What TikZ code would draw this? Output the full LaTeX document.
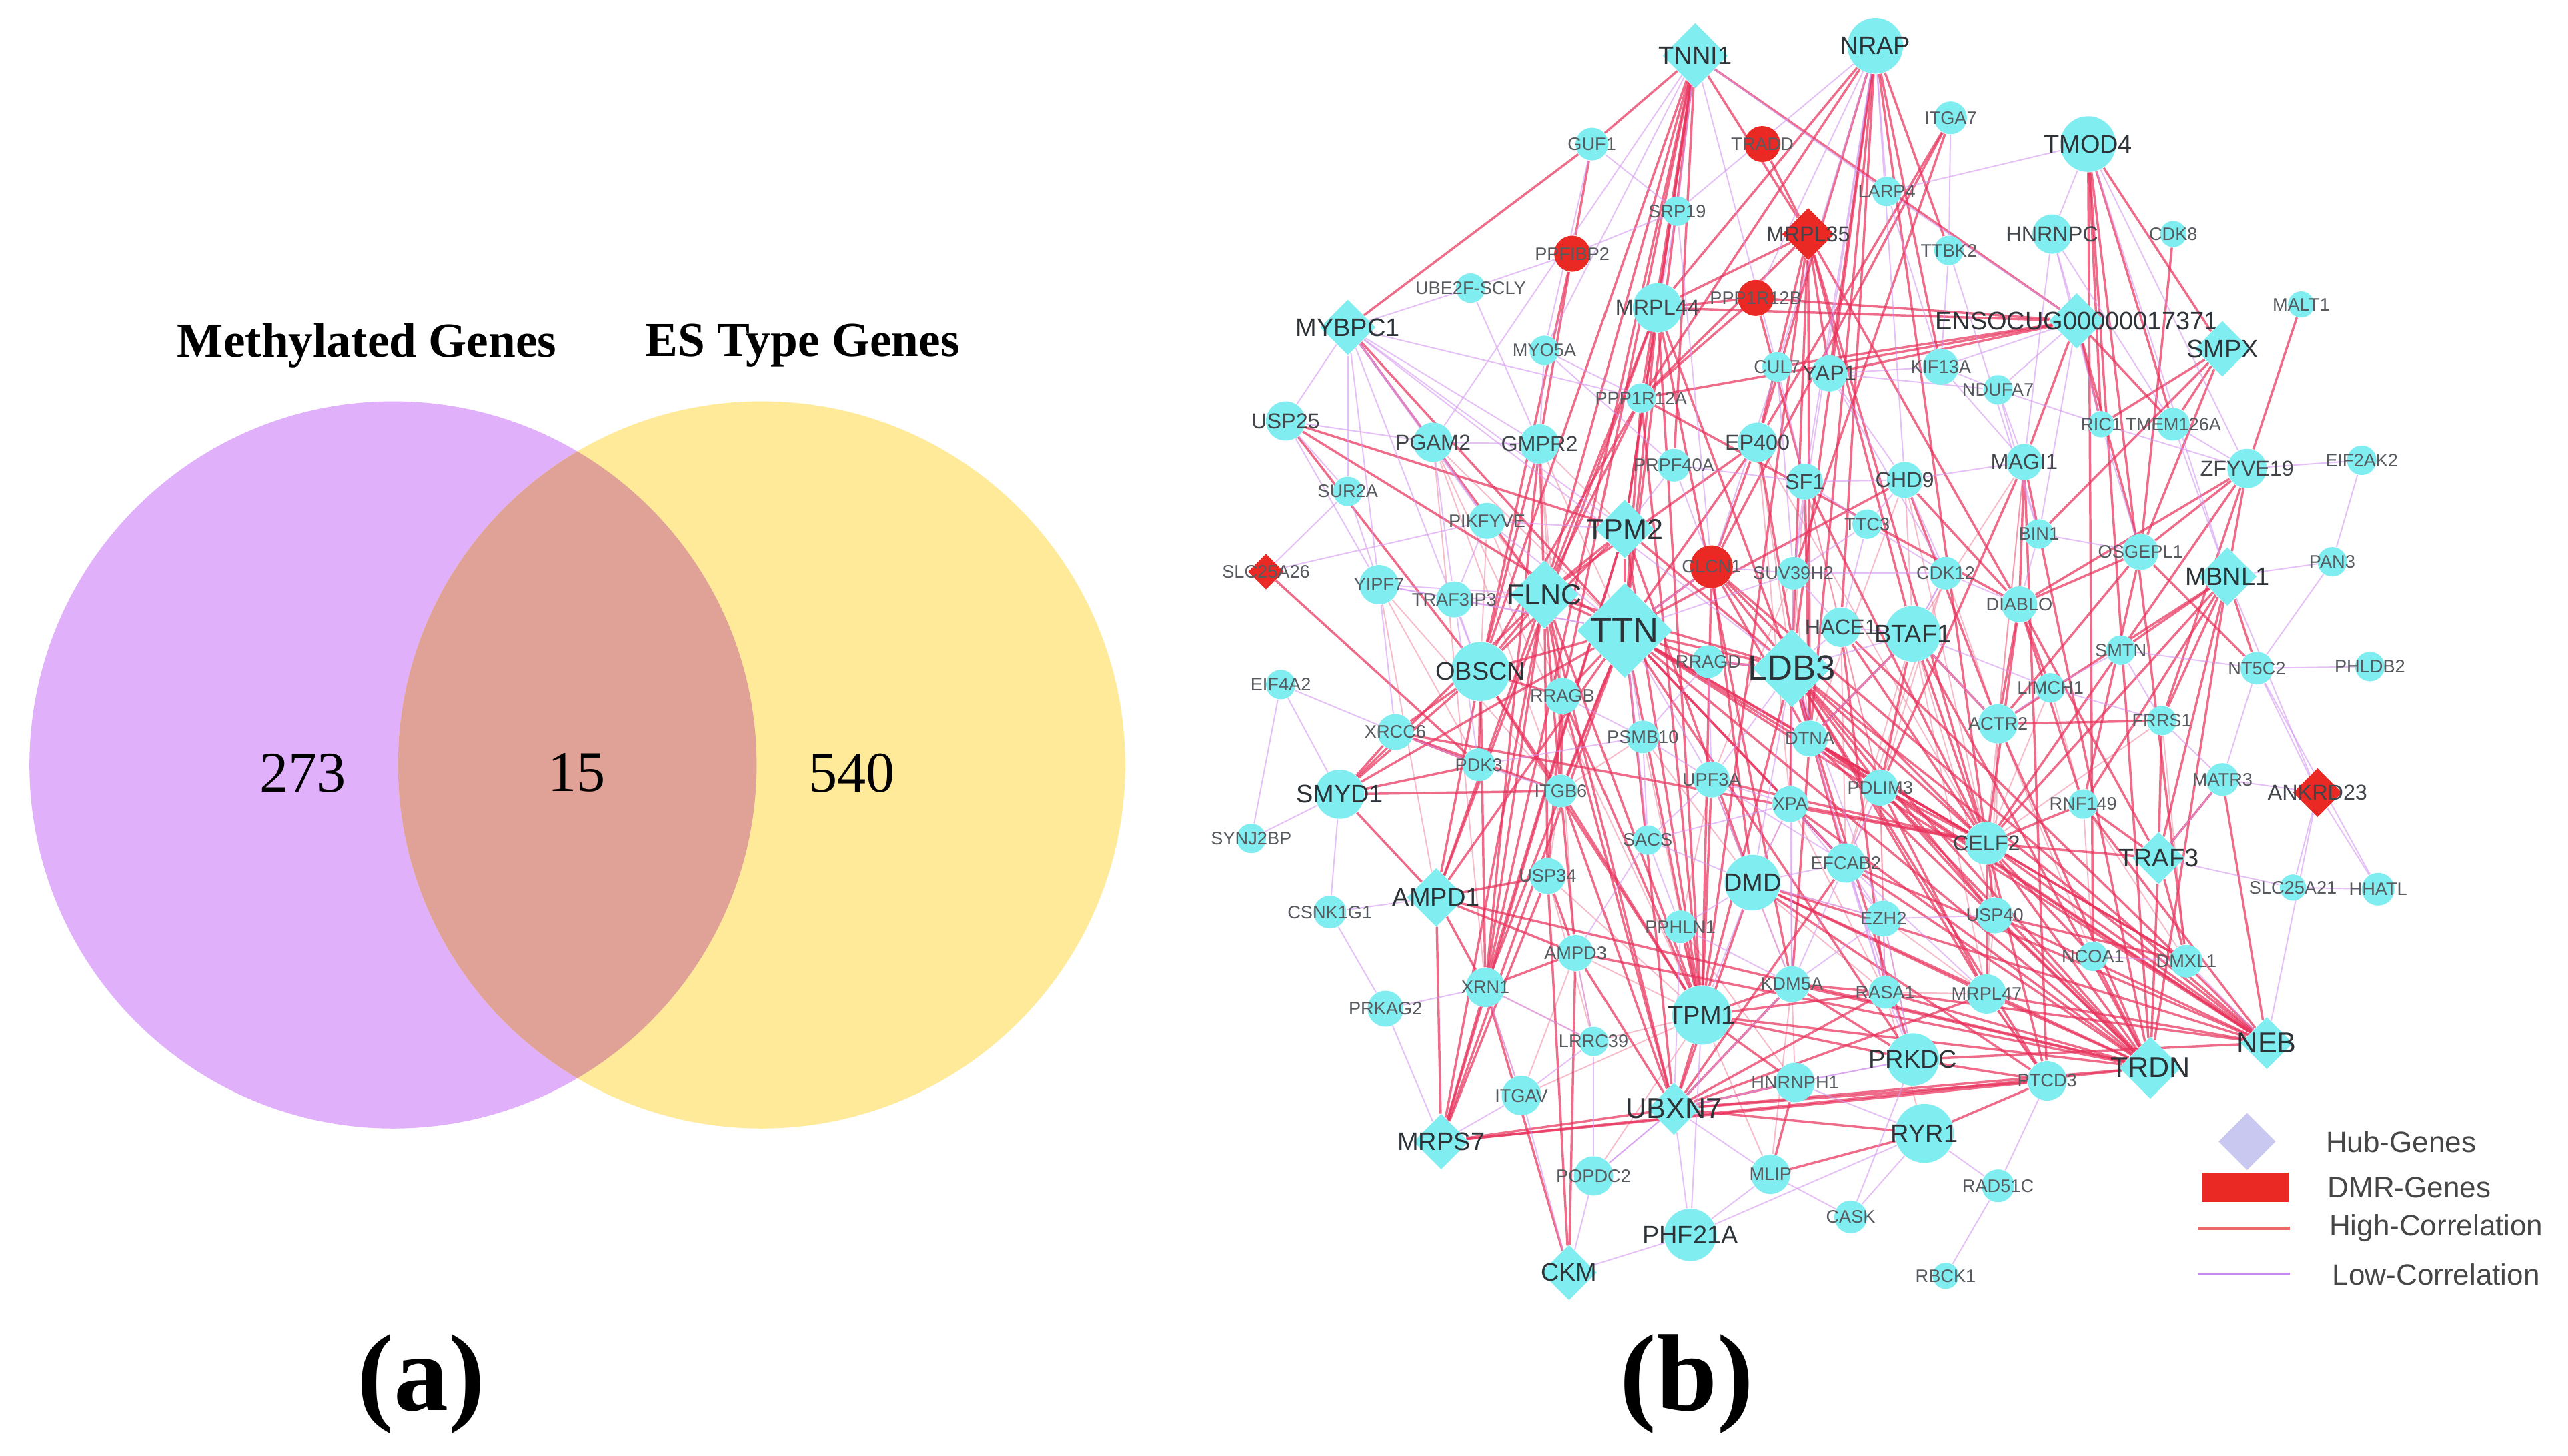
\documentclass[tikz,border=0pt]{standalone}
\usepackage{fontspec}
\setmainfont{Liberation Sans}
\newfontfamily\vennfont{Liberation Serif}
\usetikzlibrary{shapes.geometric,backgrounds}
\definecolor{genecyan}{RGB}{128,238,240}
\definecolor{dmrred}{RGB}{234,40,36}
\definecolor{hubviolet}{RGB}{200,200,240}
\definecolor{hiline}{RGB}{232,50,92}
\definecolor{loline}{RGB}{212,150,240}
\definecolor{hikeyline}{RGB}{240,105,105}
\definecolor{lokeyline}{RGB}{196,140,240}
\definecolor{methpurple}{RGB}{225,176,250}
\definecolor{esyellow}{RGB}{255,234,154}
\definecolor{overlapbrown}{RGB}{224,161,150}
\definecolor{labgray}{RGB}{45,50,55}
\definecolor{keygray}{RGB}{70,70,70}

\begin{document}
\begin{tikzpicture}[x=0.2mm, y=-0.2mm,
    gc/.style={circle, fill=genecyan, inner sep=0pt, minimum size=#1},
    rc/.style={circle, fill=dmrred, inner sep=0pt, minimum size=#1},
    gd/.style={diamond, fill=genecyan, inner sep=0pt, minimum size=#1},
    rd/.style={diamond, fill=dmrred, inner sep=0pt, minimum size=#1},
    lbs/.style={font=\fontsize{6.3}{7}\selectfont, text=labgray!80},
    lbm/.style={font=\fontsize{7.5}{8}\selectfont, text=labgray!90},
    lbl/.style={font=\fontsize{8.8}{9}\selectfont, text=labgray},
    lbx/.style={font=\fontsize{10}{11}\selectfont, text=labgray},
    lbxx/.style={font=\fontsize{12.2}{13}\selectfont, text=labgray},
    hicorr/.style={draw=hiline, line width=0.8pt, opacity=0.72},
    faintcorr/.style={draw=hiline!65!white, line width=0.45pt, opacity=0.5},
    locorr/.style={draw=loline, line width=0.45pt, opacity=0.6},
    keytext/.style={anchor=west, font=\fontsize{10.2}{11}\selectfont, text=keygray}]

\useasboundingbox (0,0) rectangle (1568,889);

% (a) Venn diagram
\fill[methpurple] (240,467) circle (44.4mm);
\fill[esyellow] (465,467) circle (44.4mm);
\begin{scope}
    \clip (240,467) circle (44.4mm);
    \fill[overlapbrown] (465,467) circle (44.4mm);
\end{scope}
\node[font=\vennfont\bfseries\fontsize{17}{18}\selectfont] (methlab) at (224,211) {Methylated Genes};
\node[font=\vennfont\bfseries\fontsize{17}{18}\selectfont] (eslab) at (490,211) {ES Type Genes};
\node[font=\vennfont\fontsize{20}{21}\selectfont] (n273) at (185,472) {273};
\node[font=\vennfont\fontsize{20}{21}\selectfont] (n15) at (352,472) {15};
\node[font=\vennfont\fontsize{20}{21}\selectfont] (n540) at (520,472) {540};
\node[font=\vennfont\bfseries\fontsize{38}{40}\selectfont] (capa) at (257,845) {(a)};
\node[font=\vennfont\bfseries\fontsize{38}{40}\selectfont] (capb) at (1030,845) {(b)};

% (b) network: hub genes
\node[gd=8mm, label={[lbl]center:TNNI1}] (tnni1) at (1035,34) {};
\node[gd=6.8mm, label={[lbl]center:ENSOCUG00000017371}] (ensocug) at (1268,196) {};
\node[gd=6.8mm, label={[lbl]center:MYBPC1}] (mybpc1) at (823,200) {};
\node[gd=6.8mm, label={[lbl]center:SMPX}] (smpx) at (1357,213) {};
\node[gd=7.2mm, label={[lbx]center:TPM2}] (tpm2) at (992,323) {};
\node[gd=7.2mm, label={[lbl]center:MBNL1}] (mbnl1) at (1360,352) {};
\node[gd=8.4mm, label={[lbx]center:FLNC}] (flnc) at (943,363) {};
\node[gd=11.6mm, label={[lbxx]center:TTN}] (ttn) at (992,385) {};
\node[gd=9.6mm, label={[lbxx]center:LDB3}] (ldb3) at (1094,408) {};
\node[gd=6.4mm, label={[lbl]center:TRAF3}] (traf3) at (1318,524) {};
\node[gd=7.2mm, label={[lbl]center:AMPD1}] (ampd1) at (877,548) {};
\node[gd=6.4mm, label={[lbx]center:NEB}] (neb) at (1384,637) {};
\node[gd=7.6mm, label={[lbx]center:TRDN}] (trdn) at (1313,652) {};
\node[gd=6.4mm, label={[lbx]center:UBXN7}] (ubxn7) at (1022,677) {};
\node[gd=6.8mm, label={[lbl]center:MRPS7}] (mrps7) at (880,697) {};
\node[gd=6.8mm, label={[lbl]center:CKM}] (ckm) at (958,777) {};

% DMR genes
\node[rd=6.4mm, label={[lbm]center:MRPL35}] (mrpl35) at (1104,143) {};
\node[rd=4.4mm, label={[lbs]center:SLC25A26}] (slc25a26) at (773,349) {};
\node[rd=6mm, label={[lbm]center:ANKRD23}] (ankrd23) at (1415,484) {};
\node[rc=4.4mm, label={[lbs]center:TRADD}] (tradd) at (1076,88) {};
\node[rc=4.4mm, label={[lbs]center:PPFIBP2}] (ppfibp2) at (960,155) {};
\node[rc=4.4mm, label={[lbs]center:PPP1R12B}] (ppp1r12b) at (1072,182) {};
\node[rc=5.2mm, label={[lbs]center:CLCN1}] (clcn1) at (1045,346) {};

% other genes
\node[gc=4mm, label={[lbs]center:GUF1}] (guf1) at (972,88) {};
\node[gc=6.8mm, label={[lbl]center:NRAP}] (nrap) at (1145,28) {};
\node[gc=4mm, label={[lbs]center:ITGA7}] (itga7) at (1191,72) {};
\node[gc=6.8mm, label={[lbl]center:TMOD4}] (tmod4) at (1275,88) {};
\node[gc=3.6mm, label={[lbs]center:LARP4}] (larp4) at (1152,117) {};
\node[gc=3.6mm, label={[lbs]center:SRP19}] (srp19) at (1024,129) {};
\node[gc=3.6mm, label={[lbs]center:TTBK2}] (ttbk2) at (1190,153) {};
\node[gc=4.8mm, label={[lbm]center:HNRNPC}] (hnrnpc) at (1253,143) {};
\node[gc=3.2mm, label={[lbs]center:CDK8}] (cdk8) at (1327,143) {};
\node[gc=3.6mm, label={[lbs]center:UBE2F-SCLY}] (ube2f) at (898,176) {};
\node[gc=6mm, label={[lbm]center:MRPL44}] (mrpl44) at (1012,188) {};
\node[gc=3.2mm, label={[lbs]center:MALT1}] (malt1) at (1405,186) {};
\node[gc=3.6mm, label={[lbs]center:MYO5A}] (myo5a) at (943,214) {};
\node[gc=3.6mm, label={[lbs]center:CUL7}] (cul7) at (1085,224) {};
\node[gc=4.4mm, label={[lbm]center:YAP1}] (yap1) at (1117,228) {};
\node[gc=4.4mm, label={[lbs]center:KIF13A}] (kif13a) at (1185,224) {};
\node[gc=3.6mm, label={[lbs]center:NDUFA7}] (ndufa7) at (1220,238) {};
\node[gc=3.6mm, label={[lbs]center:PPP1R12A}] (ppp1r12a) at (1002,243) {};
\node[gc=4.8mm, label={[lbm]center:USP25}] (usp25) at (785,257) {};
\node[gc=4.8mm, label={[lbm]center:PGAM2}] (pgam2) at (875,270) {};
\node[gc=4.8mm, label={[lbm]center:GMPR2}] (gmpr2) at (940,271) {};
\node[gc=4.8mm, label={[lbm]center:EP400}] (ep400) at (1073,270) {};
\node[gc=3.2mm, label={[lbs]center:RIC1}] (ric1) at (1283,259) {};
\node[gc=4mm, label={[lbs]center:TMEM126A}] (tmem126a) at (1327,259) {};
\node[gc=4mm, label={[lbs]center:PRPF40A}] (prpf40a) at (1022,284) {};
\node[gc=4.4mm, label={[lbm]center:MAGI1}] (magi1) at (1236,282) {};
\node[gc=4.4mm, label={[lbm]center:SF1}] (sf1) at (1102,294) {};
\node[gc=4.4mm, label={[lbm]center:CHD9}] (chd9) at (1163,293) {};
\node[gc=4.8mm, label={[lbm]center:ZFYVE19}] (zfyve19) at (1372,286) {};
\node[gc=3.6mm, label={[lbs]center:EIF2AK2}] (eif2ak2) at (1442,281) {};
\node[gc=3.6mm, label={[lbs]center:SUR2A}] (sur2a) at (823,300) {};
\node[gc=4.4mm, label={[lbs]center:PIKFYVE}] (pikfyve) at (908,318) {};
\node[gc=3.6mm, label={[lbs]center:TTC3}] (ttc3) at (1140,320) {};
\node[gc=3.6mm, label={[lbs]center:BIN1}] (bin1) at (1245,326) {};
\node[gc=4.4mm, label={[lbs]center:OSGEPL1}] (osgepl1) at (1307,337) {};
\node[gc=3.6mm, label={[lbs]center:PAN3}] (pan3) at (1424,343) {};
\node[gc=4mm, label={[lbs]center:SUV39H2}] (suv39h2) at (1095,350) {};
\node[gc=4mm, label={[lbs]center:CDK12}] (cdk12) at (1188,350) {};
\node[gc=4.8mm, label={[lbs]center:YIPF7}] (yipf7) at (842,357) {};
\node[gc=4.4mm, label={[lbs]center:TRAF3IP3}] (traf3ip3) at (888,366) {};
\node[gc=4.4mm, label={[lbs]center:DIABLO}] (diablo) at (1233,369) {};
\node[gc=4.8mm, label={[lbm]center:HACE1}] (hace1) at (1124,383) {};
\node[gc=6.8mm, label={[lbl]center:BTAF1}] (btaf1) at (1168,387) {};
\node[gc=4mm, label={[lbs]center:RRAGD}] (rragd) at (1043,404) {};
\node[gc=7.2mm, label={[lbl]center:OBSCN}] (obscn) at (904,410) {};
\node[gc=3.6mm, label={[lbs]center:SMTN}] (smtn) at (1295,397) {};
\node[gc=4mm, label={[lbs]center:NT5C2}] (nt5c2) at (1378,408) {};
\node[gc=3.6mm, label={[lbs]center:PHLDB2}] (phldb2) at (1447,407) {};
\node[gc=3.6mm, label={[lbs]center:EIF4A2}] (eif4a2) at (782,418) {};
\node[gc=4.4mm, label={[lbs]center:RRAGB}] (rragb) at (954,425) {};
\node[gc=3.6mm, label={[lbs]center:LIMCH1}] (limch1) at (1252,420) {};
\node[gc=4mm, label={[lbs]center:PSMB10}] (psmb10) at (1003,450) {};
\node[gc=4.8mm, label={[lbs]center:ACTR2}] (actr2) at (1220,442) {};
\node[gc=4.4mm, label={[lbs]center:DTNA}] (dtna) at (1105,451) {};
\node[gc=4.4mm, label={[lbs]center:XRCC6}] (xrcc6) at (852,447) {};
\node[gc=3.6mm, label={[lbs]center:FRRS1}] (frrs1) at (1320,440) {};
\node[gc=4mm, label={[lbs]center:PDK3}] (pdk3) at (903,467) {};
\node[gc=4mm, label={[lbs]center:ITGB6}] (itgb6) at (953,483) {};
\node[gc=4.4mm, label={[lbs]center:UPF3A}] (upf3a) at (1045,476) {};
\node[gc=4.4mm, label={[lbs]center:XPA}] (xpa) at (1093,491) {};
\node[gc=4.4mm, label={[lbs]center:PDLIM3}] (pdlim3) at (1148,481) {};
\node[gc=4mm, label={[lbs]center:MATR3}] (matr3) at (1357,476) {};
\node[gc=3.6mm, label={[lbs]center:RNF149}] (rnf149) at (1272,491) {};
\node[gc=6mm, label={[lbl]center:SMYD1}] (smyd1) at (818,485) {};
\node[gc=3.6mm, label={[lbs]center:SYNJ2BP}] (synj2bp) at (764,512) {};
\node[gc=3.6mm, label={[lbs]center:SACS}] (sacs) at (1006,513) {};
\node[gc=5.2mm, label={[lbm]center:CELF2}] (celf2) at (1213,515) {};
\node[gc=4.8mm, label={[lbs]center:EFCAB2}] (efcab2) at (1127,527) {};
\node[gc=3.2mm, label={[lbs]center:SLC25A21}] (slc25a21) at (1400,542) {};
\node[gc=4mm, label={[lbs]center:HHATL}] (hhatl) at (1452,543) {};
\node[gc=6.8mm, label={[lbl]center:DMD}] (dmd) at (1070,539) {};
\node[gc=4.4mm, label={[lbs]center:USP34}] (usp34) at (945,535) {};
\node[gc=4mm, label={[lbs]center:CSNK1G1}] (csnk1g1) at (812,557) {};
\node[gc=4.4mm, label={[lbs]center:EZH2}] (ezh2) at (1150,561) {};
\node[gc=4.4mm, label={[lbs]center:USP40}] (usp40) at (1218,559) {};
\node[gc=4.4mm, label={[lbs]center:AMPD3}] (ampd3) at (962,582) {};
\node[gc=4mm, label={[lbs]center:PPHLN1}] (pphln1) at (1026,566) {};
\node[gc=3.6mm, label={[lbs]center:NCOA1}] (ncoa1) at (1278,584) {};
\node[gc=4mm, label={[lbs]center:DMXL1}] (dmxl1) at (1335,587) {};
\node[gc=4.8mm, label={[lbs]center:XRN1}] (xrn1) at (907,603) {};
\node[gc=4.4mm, label={[lbs]center:KDM5A}] (kdm5a) at (1094,601) {};
\node[gc=4mm, label={[lbs]center:RASA1}] (rasa1) at (1151,606) {};
\node[gc=4.8mm, label={[lbs]center:MRPL47}] (mrpl47) at (1213,607) {};
\node[gc=4.4mm, label={[lbs]center:PRKAG2}] (prkag2) at (846,616) {};
\node[gc=7.2mm, label={[lbl]center:TPM1}] (tpm1) at (1039,620) {};
\node[gc=3.6mm, label={[lbs]center:LRRC39}] (lrrc39) at (973,636) {};
\node[gc=6.4mm, label={[lbl]center:PRKDC}] (prkdc) at (1168,647) {};
\node[gc=4.8mm, label={[lbs]center:PTCD3}] (ptcd3) at (1250,660) {};
\node[gc=4.8mm, label={[lbs]center:HNRNPH1}] (hnrnph1) at (1096,661) {};
\node[gc=4.8mm, label={[lbs]center:ITGAV}] (itgav) at (929,669) {};
\node[gc=7.2mm, label={[lbl]center:RYR1}] (ryr1) at (1175,692) {};
\node[gc=4.8mm, label={[lbs]center:POPDC2}] (popdc2) at (973,718) {};
\node[gc=4.8mm, label={[lbs]center:MLIP}] (mlip) at (1081,717) {};
\node[gc=4mm, label={[lbs]center:RAD51C}] (rad51c) at (1220,724) {};
\node[gc=4mm, label={[lbs]center:CASK}] (cask) at (1130,743) {};
\node[gc=6.4mm, label={[lbl]center:PHF21A}] (phf21a) at (1032,754) {};
\node[gc=3.2mm, label={[lbs]center:RBCK1}] (rbck1) at (1188,779) {};

% correlation edges
\begin{scope}[on background layer]
\fill[white] (0,0) rectangle (1568,889);
% faint background correlations
\foreach \t in {ttn,tpm1,itgb6,xrn1} \draw[faintcorr] (pgam2) -- (\t);
\foreach \t in {ttn,tpm2,rragb,ampd3} \draw[faintcorr] (gmpr2) -- (\t);
\foreach \t in {flnc,rragb,obscn} \draw[faintcorr] (pikfyve) -- (\t);
\foreach \t in {pdk3,itgb6,ampd1} \draw[faintcorr] (yipf7) -- (\t);
\foreach \t in {ldb3,celf2,xpa} \draw[faintcorr] (ep400) -- (\t);
\foreach \t in {ldb3,pdlim3,hace1} \draw[faintcorr] (sf1) -- (\t);
\foreach \t in {btaf1,celf2,dtna} \draw[faintcorr] (chd9) -- (\t);
\foreach \t in {btaf1,actr2,celf2} \draw[faintcorr] (magi1) -- (\t);
\foreach \t in {actr2,pdlim3,efcab2} \draw[faintcorr] (cdk12) -- (\t);
\foreach \t in {dtna,xpa,upf3a} \draw[faintcorr] (suv39h2) -- (\t);
\foreach \t in {pdlim3,efcab2} \draw[faintcorr] (hace1) -- (\t);
\foreach \t in {efcab2,usp40,mrpl47} \draw[faintcorr] (btaf1) -- (\t);
\foreach \t in {usp40,mrpl47,ncoa1} \draw[faintcorr] (actr2) -- (\t);
\foreach \t in {celf2,rnf149} \draw[faintcorr] (limch1) -- (\t);
\foreach \t in {celf2,dmxl1} \draw[faintcorr] (frrs1) -- (\t);
\foreach \t in {dmxl1,ncoa1} \draw[faintcorr] (rnf149) -- (\t);
\foreach \t in {tpm1,dmd,itgb6} \draw[faintcorr] (psmb10) -- (\t);
\foreach \t in {dmd,pphln1,kdm5a} \draw[faintcorr] (upf3a) -- (\t);
\foreach \t in {dmd,rasa1} \draw[faintcorr] (xpa) -- (\t);
\foreach \t in {ezh2,rasa1,efcab2} \draw[faintcorr] (pdlim3) -- (\t);
\foreach \t in {mrpl47,prkdc} \draw[faintcorr] (ezh2) -- (\t);
\foreach \t in {tpm1,lrrc39,itgb6} \draw[faintcorr] (usp34) -- (\t);
\foreach \t in {tpm1,lrrc39,itgav} \draw[faintcorr] (ampd3) -- (\t);
\foreach \t in {tpm1,hnrnph1} \draw[faintcorr] (pphln1) -- (\t);
\foreach \t in {mlip,hnrnph1} \draw[faintcorr] (kdm5a) -- (\t);
\foreach \t in {ryr1,mrpl47} \draw[faintcorr] (rasa1) -- (\t);
\foreach \t in {lrrc39,itgav,popdc2,mlip} \draw[faintcorr] (tpm1) -- (\t);
\foreach \t in {itgav,lrrc39} \draw[faintcorr] (xrn1) -- (\t);
\foreach \t in {usp40,ptcd3} \draw[faintcorr] (mrpl47) -- (\t);
\foreach \t in {ezh2,rasa1} \draw[faintcorr] (dmd) -- (\t);
% high correlation
\foreach \t in {guf1,mrpl44,ppp1r12a,tpm2,ttn,flnc,ensocug,obscn,prpf40a,xrn1,rragb,mrpl35} \draw[hicorr] (tnni1) -- (\t);
\foreach \t in {ep400,yap1,mrpl44,ppp1r12a,ldb3,dtna,celf2,hace1,kif13a,ttbk2} \draw[hicorr] (nrap) -- (\t);
\foreach \t in {ep400,clcn1,suv39h2} \draw[hicorr] (itga7) -- (\t);
\foreach \t in {mrpl44,yap1,dtna,celf2,ldb3,tpm1,ep400,btaf1,diablo,ppp1r12a,tradd} \draw[hicorr] (mrpl35) -- (\t);
\foreach \t in {guf1,gmpr2,obscn} \draw[hicorr] (ppfibp2) -- (\t);
\foreach \t in {mrpl44,ensocug,sf1,ppp1r12a} \draw[hicorr] (ppp1r12b) -- (\t);
\foreach \t in {ric1,smpx,trdn,dmxl1,tmem126a,ncoa1} \draw[hicorr] (tmod4) -- (\t);
\draw[hicorr] (cdk8) -- (osgepl1);
\draw[hicorr] (malt1) -- (zfyve19);
\foreach \t in {cul7,ric1,ppp1r12a,yap1,osgepl1,tmem126a,magi1,mrpl44} \draw[hicorr] (ensocug) -- (\t);
\foreach \t in {tmem126a,ric1,osgepl1,bin1} \draw[hicorr] (smpx) -- (\t);
\foreach \t in {guf1,ttn,flnc} \draw[hicorr] (mybpc1) -- (\t);
\foreach \t in {ttn,flnc,tpm2,ldb3,kdm5a,ampd1,tpm1} \draw[hicorr] (mrpl44) -- (\t);
\foreach \t in {ttn,clcn1,dtna,flnc} \draw[hicorr] (ep400) -- (\t);
\foreach \t in {ttn,flnc,tpm1,diablo,obscn} \draw[hicorr] (ppp1r12a) -- (\t);
\foreach \t in {flnc,obscn,xrn1} \draw[hicorr] (gmpr2) -- (\t);
\foreach \t in {obscn,ttn,tpm2} \draw[hicorr] (usp25) -- (\t);
\foreach \t in {osgepl1,mbnl1,frrs1,diablo,celf2} \draw[hicorr] (zfyve19) -- (\t);
\foreach \t in {smtn,nt5c2,traf3,rnf149,actr2,frrs1,celf2,trdn} \draw[hicorr] (mbnl1) -- (\t);
\foreach \t in {diablo,actr2,nt5c2,rnf149} \draw[hicorr] (osgepl1) -- (\t);
\foreach \t in {diablo,trdn,ptcd3,pdlim3} \draw[hicorr] (magi1) -- (\t);
\foreach \t in {ttn,diablo,actr2} \draw[hicorr] (chd9) -- (\t);
\foreach \t in {dtna,celf2} \draw[hicorr] (sf1) -- (\t);
\foreach \t in {ttn,ldb3,dtna,dmd,celf2,neb,tpm1} \draw[hicorr] (clcn1) -- (\t);
\foreach \t in {flnc,tpm2,ldb3,obscn,rragb,rragd,dtna,tpm1,pdlim3,xpa,ampd1,smyd1,ubxn7,trdn,neb,celf2,itgb6,efcab2,prkdc,xrn1,mrps7} \draw[hicorr] (ttn) -- (\t);
\foreach \t in {obscn,rragb,itgb6,ampd1,smyd1,tpm1,xrn1,ldb3,ubxn7,mrps7,usp34} \draw[hicorr] (flnc) -- (\t);
\foreach \t in {ldb3,tpm1,obscn,mrps7,xrn1,dmd,flnc} \draw[hicorr] (tpm2) -- (\t);
\foreach \t in {dtna,celf2,neb,trdn,pdlim3,efcab2,mrpl47,prkdc,tpm1,usp40,rragd,xpa,ptcd3} \draw[hicorr] (ldb3) -- (\t);
\foreach \t in {rragb,smyd1,ampd1,xrcc6,pdk3,itgb6,xrn1,tpm1} \draw[hicorr] (obscn) -- (\t);
\foreach \t in {dtna,pdlim3,celf2,actr2,trdn} \draw[hicorr] (btaf1) -- (\t);
\foreach \t in {neb,celf2,rasa1} \draw[hicorr] (hace1) -- (\t);
\foreach \t in {neb,trdn,celf2,dmxl1,pdlim3,kdm5a} \draw[hicorr] (dtna) -- (\t);
\foreach \t in {actr2,limch1,celf2,traf3,rnf149} \draw[hicorr] (diablo) -- (\t);
\foreach \t in {neb,trdn,celf2,usp40,mrpl47} \draw[hicorr] (pdlim3) -- (\t);
\foreach \t in {trdn,celf2,efcab2} \draw[hicorr] (xpa) -- (\t);
\foreach \t in {tpm1,celf2} \draw[hicorr] (upf3a) -- (\t);
\foreach \t in {xrcc6,pdk3,ampd1,itgb6} \draw[hicorr] (smyd1) -- (\t);
\draw[hicorr] (slc25a26) -- (pdk3);
\foreach \t in {pdk3,itgb6,celf2} \draw[hicorr] (xrcc6) -- (\t);
\foreach \t in {itgb6,tpm1,usp34,ubxn7} \draw[hicorr] (rragb) -- (\t);
\foreach \t in {ampd3,ubxn7,tpm1} \draw[hicorr] (itgb6) -- (\t);
\foreach \t in {neb,trdn,dmxl1,ncoa1,usp40,mrpl47,traf3,rnf149,ptcd3} \draw[hicorr] (celf2) -- (\t);
\foreach \t in {rnf149,dmxl1,trdn,matr3,frrs1} \draw[hicorr] (traf3) -- (\t);
\foreach \t in {trdn,frrs1} \draw[hicorr] (actr2) -- (\t);
\foreach \t in {usp34,ampd3,xrn1,trdn,mrps7} \draw[hicorr] (ampd1) -- (\t);
\foreach \t in {ampd3,mrps7,ckm} \draw[hicorr] (usp34) -- (\t);
\foreach \t in {ckm,ubxn7,trdn} \draw[hicorr] (ampd3) -- (\t);
\foreach \t in {mrps7,ampd3,ckm} \draw[hicorr] (xrn1) -- (\t);
\foreach \t in {ubxn7,ptcd3,trdn} \draw[hicorr] (mrps7) -- (\t);
\foreach \t in {tpm1,ptcd3,trdn,kdm5a,rasa1,mrpl47,dmd,efcab2,ryr1} \draw[hicorr] (ubxn7) -- (\t);
\foreach \t in {kdm5a,rasa1,prkdc,trdn,pphln1} \draw[hicorr] (tpm1) -- (\t);
\foreach \t in {trdn,neb,ptcd3,mrpl47} \draw[hicorr] (dmd) -- (\t);
\foreach \t in {prkdc,rasa1,trdn} \draw[hicorr] (kdm5a) -- (\t);
\foreach \t in {trdn,neb} \draw[hicorr] (rasa1) -- (\t);
\foreach \t in {trdn,ptcd3,neb} \draw[hicorr] (mrpl47) -- (\t);
\foreach \t in {ptcd3,mlip} \draw[hicorr] (ryr1) -- (\t);
\draw[hicorr] (mlip) -- (hnrnph1);
\foreach \t in {ptcd3,neb} \draw[hicorr] (prkdc) -- (\t);
\foreach \t in {tpm1,ubxn7} \draw[hicorr] (hnrnph1) -- (\t);
\foreach \t in {neb,trdn} \draw[hicorr] (efcab2) -- (\t);
\foreach \t in {neb,trdn,dmxl1} \draw[hicorr] (usp40) -- (\t);
\draw[hicorr] (matr3) -- (neb);
\draw[hicorr] (ncoa1) -- (trdn);
\draw[hicorr] (rnf149) -- (neb);
% low correlation
\foreach \t in {srp19,myo5a,pgam2,cul7,larp4} \draw[locorr] (tnni1) -- (\t);
\foreach \t in {larp4,sf1,cul7,ppp1r12b,chd9,suv39h2,srp19} \draw[locorr] (nrap) -- (\t);
\foreach \t in {srp19,myo5a} \draw[locorr] (guf1) -- (\t);
\foreach \t in {clcn1,mrpl44,ppfibp2} \draw[locorr] (srp19) -- (\t);
\foreach \t in {tmod4,ensocug,kif13a} \draw[locorr] (larp4) -- (\t);
\draw[locorr] (itga7) -- (ttbk2);
\foreach \t in {hnrnpc,zfyve19,mbnl1} \draw[locorr] (tmod4) -- (\t);
\foreach \t in {ensocug,magi1,ric1,tmem126a} \draw[locorr] (hnrnpc) -- (\t);
\foreach \t in {kif13a,bin1} \draw[locorr] (ttbk2) -- (\t);
\foreach \t in {mybpc1,ppfibp2,gmpr2} \draw[locorr] (ube2f) -- (\t);
\foreach \t in {usp25,pgam2,gmpr2,pikfyve,sur2a,ppp1r12a,tpm2,obscn,ldb3,yipf7} \draw[locorr] (mybpc1) -- (\t);
\foreach \t in {ppp1r12a,gmpr2,prpf40a} \draw[locorr] (myo5a) -- (\t);
\foreach \t in {kif13a,ndufa7,bin1} \draw[locorr] (ensocug) -- (\t);
\foreach \t in {sf1,clcn1,suv39h2} \draw[locorr] (cul7) -- (\t);
\foreach \t in {kif13a,ndufa7,cdk12,chd9} \draw[locorr] (yap1) -- (\t);
\foreach \t in {magi1,ndufa7} \draw[locorr] (kif13a) -- (\t);
\foreach \t in {magi1,bin1,ric1} \draw[locorr] (ndufa7) -- (\t);
\foreach \t in {zfyve19,osgepl1} \draw[locorr] (ric1) -- (\t);
\foreach \t in {zfyve19,mbnl1} \draw[locorr] (tmem126a) -- (\t);
\foreach \t in {zfyve19,pan3} \draw[locorr] (eif2ak2) -- (\t);
\foreach \t in {mbnl1,nt5c2} \draw[locorr] (pan3) -- (\t);
\foreach \t in {sur2a,pgam2,yipf7} \draw[locorr] (usp25) -- (\t);
\foreach \t in {yipf7,slc25a26} \draw[locorr] (sur2a) -- (\t);
\foreach \t in {gmpr2,pikfyve,traf3ip3} \draw[locorr] (pgam2) -- (\t);
\foreach \t in {tpm2,traf3ip3,slc25a26} \draw[locorr] (pikfyve) -- (\t);
\foreach \t in {tpm2,clcn1,sf1} \draw[locorr] (prpf40a) -- (\t);
\foreach \t in {chd9,suv39h2,ttc3} \draw[locorr] (sf1) -- (\t);
\foreach \t in {magi1,ttc3,cdk12} \draw[locorr] (chd9) -- (\t);
\foreach \t in {cdk12,suv39h2,hace1} \draw[locorr] (ttc3) -- (\t);
\foreach \t in {diablo,osgepl1} \draw[locorr] (bin1) -- (\t);
\foreach \t in {clcn1,hace1,cdk12} \draw[locorr] (suv39h2) -- (\t);
\foreach \t in {diablo,btaf1} \draw[locorr] (cdk12) -- (\t);
\foreach \t in {traf3ip3,xrcc6,flnc} \draw[locorr] (yipf7) -- (\t);
\foreach \t in {flnc,obscn,pdk3} \draw[locorr] (traf3ip3) -- (\t);
\foreach \t in {smyd1,xrcc6,synj2bp} \draw[locorr] (eif4a2) -- (\t);
\draw[locorr] (synj2bp) -- (smyd1);
\foreach \t in {ldb3,psmb10,upf3a} \draw[locorr] (rragd) -- (\t);
\foreach \t in {rragb,upf3a,sacs} \draw[locorr] (psmb10) -- (\t);
\foreach \t in {actr2,smtn,frrs1} \draw[locorr] (limch1) -- (\t);
\foreach \t in {nt5c2,frrs1} \draw[locorr] (smtn) -- (\t);
\foreach \t in {phldb2,matr3,ankrd23} \draw[locorr] (nt5c2) -- (\t);
\foreach \t in {matr3,hhatl,mbnl1,slc25a21,neb} \draw[locorr] (ankrd23) -- (\t);
\foreach \t in {hhatl,traf3} \draw[locorr] (slc25a21) -- (\t);
\draw[locorr] (hhatl) -- (nt5c2);
\foreach \t in {frrs1,traf3} \draw[locorr] (matr3) -- (\t);
\foreach \t in {xrcc6,itgb6,psmb10} \draw[locorr] (pdk3) -- (\t);
\foreach \t in {upf3a,xpa,ampd3,pphln1} \draw[locorr] (sacs) -- (\t);
\foreach \t in {xpa,efcab2} \draw[locorr] (upf3a) -- (\t);
\foreach \t in {efcab2,kdm5a,ezh2} \draw[locorr] (xpa) -- (\t);
\foreach \t in {ezh2,dmd,rasa1,kdm5a,mrpl47,pdlim3} \draw[locorr] (efcab2) -- (\t);
\foreach \t in {usp40,rasa1,kdm5a,dmd} \draw[locorr] (ezh2) -- (\t);
\foreach \t in {dmd,kdm5a} \draw[locorr] (pphln1) -- (\t);
\foreach \t in {ampd1,prkag2,smyd1} \draw[locorr] (csnk1g1) -- (\t);
\foreach \t in {xrn1,mrps7} \draw[locorr] (prkag2) -- (\t);
\foreach \t in {xrn1,ampd3,itgav,popdc2} \draw[locorr] (lrrc39) -- (\t);
\foreach \t in {mrps7,ckm,xrn1} \draw[locorr] (itgav) -- (\t);
\foreach \t in {ckm,ubxn7} \draw[locorr] (popdc2) -- (\t);
\foreach \t in {ubxn7,mlip,ryr1,ckm,tpm1} \draw[locorr] (phf21a) -- (\t);
\foreach \t in {prkdc,ryr1,mlip} \draw[locorr] (cask) -- (\t);
\foreach \t in {ryr1,rbck1,ptcd3} \draw[locorr] (rad51c) -- (\t);
\foreach \t in {ryr1,prkdc} \draw[locorr] (hnrnph1) -- (\t);
\draw[locorr] (ncoa1) -- (dmxl1);
\draw[locorr] (dmxl1) -- (neb);
\foreach \t in {pikfyve,yipf7,traf3ip3,psmb10,upf3a,sacs,suv39h2,clcn1} \draw[locorr] (ttn) -- (\t);
\foreach \t in {hace1,btaf1,suv39h2,ezh2,kdm5a,rasa1,upf3a,dmd} \draw[locorr] (ldb3) -- (\t);
\foreach \t in {kdm5a,xpa,upf3a,sacs,tpm1} \draw[locorr] (dmd) -- (\t);
\foreach \t in {rasa1,efcab2,ezh2,hnrnph1} \draw[locorr] (prkdc) -- (\t);
\foreach \t in {hnrnph1,mlip,kdm5a,pphln1,popdc2} \draw[locorr] (ubxn7) -- (\t);
\foreach \t in {hace1,cdk12,dtna,actr2,limch1} \draw[locorr] (btaf1) -- (\t);
\end{scope}

% legend
\node[diamond, fill=hubviolet, inner sep=0pt, minimum size=7mm] (hubkey) at (1372,697) {};
\node[keytext] (hubtext) at (1414,697) {Hub-Genes};
\node[rectangle, fill=dmrred, inner sep=0pt, minimum width=10.6mm, minimum height=3.6mm] (dmrkey) at (1371,725) {};
\node[keytext] (dmrtext) at (1415,725) {DMR-Genes};
\coordinate (hikeyA) at (1342,750);
\coordinate (hikeyB) at (1398,750);
\draw[hikeyline, line width=1pt] (hikeyA) -- (hikeyB);
\node[keytext] (hitext) at (1416,750) {High-Correlation};
\coordinate (lokeyA) at (1342,778);
\coordinate (lokeyB) at (1398,778);
\draw[lokeyline, line width=1pt] (lokeyA) -- (lokeyB);
\node[keytext] (lotext) at (1418,778) {Low-Correlation};
\end{tikzpicture}
\end{document}
